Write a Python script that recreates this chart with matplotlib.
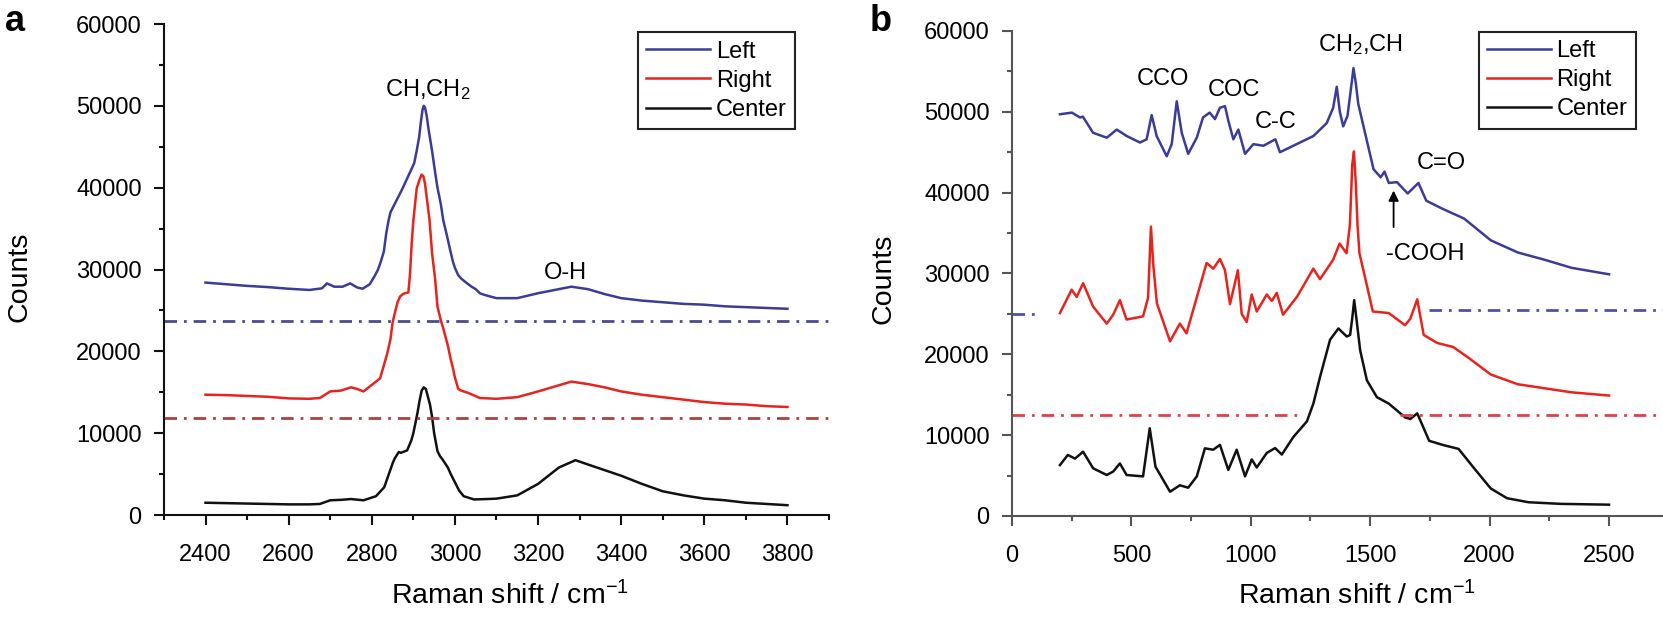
import numpy as np
import matplotlib
matplotlib.use('Agg')
import matplotlib.pyplot as plt
from matplotlib.ticker import MultipleLocator

plt.rcParams['font.family'] = ['Liberation Sans', 'DejaVu Sans']
plt.rcParams['mathtext.fontset'] = 'custom'
plt.rcParams['mathtext.rm'] = 'Liberation Sans'
plt.rcParams['mathtext.it'] = 'Liberation Sans'

#colours of the three spectra
blue = '#3b3b98'
red = '#e8231d'
black = '#111111'

labels = ['Left', 'Right', 'Center']

#panel a: high wavenumber region
a_left_x = [2400, 2450, 2500, 2550, 2600, 2650, 2680, 2692, 2710, 2730, 2748, 2765, 2778, 2795, 2808,
            2815, 2822, 2829, 2835, 2840, 2845, 2855, 2864, 2873, 2883, 2893, 2902, 2908, 2914, 2918,
            2922, 2925, 2928, 2932, 2937, 2945, 2952, 2958, 2966, 2972, 2981, 2988, 2995, 3000, 3008,
            3015, 3027, 3040, 3050, 3060, 3071, 3085, 3100, 3150, 3200, 3240, 3280, 3320, 3360, 3400,
            3450, 3500, 3550, 3600, 3650, 3700, 3750, 3800]
a_left_y = [28400, 28200, 28000, 27850, 27650, 27500, 27700, 28300, 27900, 27900, 28300, 27800, 27650, 28200, 29300,
            30000, 31000, 32200, 34500, 35900, 37000, 38000, 38900, 39800, 40900, 42000, 43000, 44500, 46200, 48000,
            49500, 50000, 49800, 48800, 47000, 44500, 42000, 40000, 38000, 36000, 34100, 32500, 31000, 30200, 29300,
            28900, 28400, 27900, 27600, 27100, 26900, 26700, 26500, 26500, 27100, 27500, 27900, 27600, 27000, 26500,
            26200, 26000, 25800, 25700, 25500, 25400, 25300, 25200]

a_right_x = [2400, 2450, 2500, 2550, 2600, 2650, 2675, 2700, 2725, 2750, 2765, 2780, 2800, 2820, 2837,
             2845, 2850, 2855, 2862, 2868, 2875, 2880, 2888, 2892, 2896, 2900, 2908, 2915, 2920, 2924,
             2928, 2939, 2945, 2952, 2958, 2966, 2972, 2983, 2990, 2995, 3000, 3008, 3015, 3033, 3060,
             3100, 3150, 3200, 3240, 3280, 3320, 3360, 3400, 3450, 3500, 3550, 3600, 3650, 3700, 3750,
             3800]
a_right_y = [14700, 14650, 14550, 14450, 14250, 14200, 14300, 15100, 15200, 15600, 15400, 15100, 15900, 16700, 19700,
             21500, 23500, 24600, 26000, 26700, 27000, 27100, 27200, 29500, 33200, 36000, 39900, 41000, 41600, 41400,
             40500, 36000, 32000, 29000, 25500, 23800, 22800, 20700, 19000, 18000, 16800, 15400, 15200, 14900, 14300,
             14200, 14400, 15100, 15700, 16300, 16000, 15600, 15100, 14700, 14400, 14100, 13800, 13600, 13500, 13300,
             13200]

a_center_x = [2400, 2450, 2500, 2550, 2600, 2650, 2675, 2700, 2725, 2750, 2780, 2810, 2830, 2850, 2855,
              2865, 2870, 2880, 2885, 2895, 2900, 2910, 2915, 2920, 2925, 2930, 2940, 2945, 2950, 2958,
              2964, 2970, 2983, 2990, 3002, 3010, 3021, 3046, 3075, 3100, 3150, 3200, 3250, 3290, 3330,
              3400, 3450, 3500, 3550, 3600, 3650, 3700, 3750, 3800]
a_center_y = [1500, 1450, 1400, 1350, 1300, 1300, 1350, 1800, 1850, 1950, 1800, 2300, 3400, 6300, 6900,
              7700, 7600, 7800, 7900, 9100, 10000, 12500, 14000, 15200, 15600, 15400, 13500, 12000, 10000, 7800,
              7200, 6800, 5800, 5000, 3800, 3000, 2300, 1900, 1950, 2000, 2400, 3800, 5800, 6700, 6000,
              4800, 3800, 2900, 2400, 2000, 1800, 1500, 1350, 1200]

#horizontal dash-dot reference levels in panel a
a_blue_level = 23700
a_red_level = 11800

#panel b: fingerprint region
b_left_x = [201, 251, 285, 297, 340, 397, 439, 481, 536, 564, 585, 606, 648, 669, 690,
            711, 738, 774, 800, 828, 850, 871, 892, 906, 927, 948, 976, 1011, 1053, 1103,
            1122, 1150, 1206, 1262, 1318, 1345, 1360, 1373, 1387, 1405, 1420, 1430, 1440, 1450, 1472,
            1514, 1544, 1560, 1578, 1612, 1657, 1702, 1735, 1803, 1893, 2005, 2118, 2230, 2343, 2500]
b_left_y = [49700, 49900, 49300, 49400, 47400, 46800, 47800, 47000, 46200, 46600, 49600, 47000, 44500, 46000, 51300,
            47400, 44800, 46800, 49300, 49900, 49100, 50500, 50700, 48900, 46600, 47800, 44800, 46000, 45800, 46600,
            45000, 45400, 46200, 47000, 48600, 50500, 53100, 50000, 48200, 49500, 53000, 55400, 53500, 51000, 48200,
            42900, 41900, 42600, 41200, 41300, 39900, 41200, 39000, 38000, 36800, 34100, 32600, 31700, 30700, 29900]

b_right_x = [201, 250, 271, 298, 340, 397, 424, 452, 480, 549, 570, 582, 592, 607, 662, 703, 731,
             787, 815, 843, 871, 892, 913, 946, 962, 983, 1004, 1025, 1067, 1088, 1109, 1135,
             1193, 1262, 1290, 1345, 1372, 1401, 1415, 1425, 1432, 1440, 1447, 1455, 1477, 1511, 1578,
             1646, 1668, 1697, 1724, 1781, 1848, 1915, 2005, 2118, 2230, 2343, 2500]
b_right_y = [25100, 28000, 27100, 28800, 25900, 23800, 24900, 26700, 24300, 24700, 27000, 35800, 31000, 26300, 21600, 23800, 22600,
             28400, 31300, 30600, 31800, 30400, 26200, 30400, 25000, 24000, 27400, 25300, 27400, 26600, 27600, 24900,
             27100, 30600, 29300, 31700, 33700, 32500, 36000, 43500, 45100, 41000, 36000, 32500, 29700, 25300, 25100,
             23600, 24400, 26800, 22400, 21400, 20900, 19500, 17500, 16300, 15800, 15300, 14900]

b_center_x = [201, 234, 264, 298, 340, 397, 424, 452, 480, 549, 577, 601, 662, 703, 738,
              774, 808, 843, 871, 906, 941, 976, 1004, 1025, 1067, 1102, 1130, 1179, 1235, 1262,
              1290, 1332, 1367, 1402, 1416, 1425, 1433, 1440, 1458, 1486, 1528, 1578, 1646, 1668, 1697,
              1747, 1803, 1870, 1938, 2005, 2073, 2163, 2298, 2500]
b_center_y = [6300, 7550, 7100, 7950, 5900, 5070, 5500, 6500, 5070, 4900, 10850, 6100, 3000, 3800, 3500,
              4900, 8370, 8200, 8800, 5700, 8200, 4900, 7000, 6000, 7800, 8400, 7600, 9800, 11700, 13900,
              17200, 21800, 23200, 22200, 22400, 24500, 26700, 25000, 20500, 16800, 14700, 13900, 12200, 12000, 12700,
              9300, 8800, 8300, 5800, 3400, 2200, 1700, 1500, 1400]

#dash-dot levels in panel b, drawn only where they show in the picture
b_blue_segments = [([0, 115], 25000), ([1745, 2750], 25500)]
b_red_segments = [([0, 1200], 12500), ([1625, 2750], 12500)]

dashdot = (0, (4.5, 2.5, 1, 2.5))

fig = plt.figure(figsize=(16.63, 6.17), dpi=100)
axa = fig.add_axes([0.0986, 0.1653, 0.3999, 0.7958])
axb = fig.add_axes([0.6085, 0.1637, 0.3915, 0.7861])


def style_axes(ax, spine_col):
    for s in ['top', 'right']:
        ax.spines[s].set_visible(False)
    for s in ['left', 'bottom']:
        ax.spines[s].set_linewidth(1.5)
        ax.spines[s].set_color(spine_col)
    ax.tick_params(which='major', direction='out', length=7, width=1.5, color=spine_col, labelsize=17)
    ax.tick_params(which='minor', direction='out', length=3.5, width=1.5, color=spine_col)
    ax.tick_params(axis='x', which='major', pad=14)
    ax.tick_params(axis='y', which='major', pad=9)
    ax.yaxis.set_major_locator(MultipleLocator(10000))
    ax.yaxis.set_minor_locator(MultipleLocator(5000))
    ax.set_ylim(0, 60000)
    ax.set_xlabel('Raman shift / cm$^{-1}$', fontsize=20.5)
    ax.set_ylabel('Counts', fontsize=20.5)


#panel a
style_axes(axa, '#111111')
axa.plot(a_left_x, a_left_y, color=blue, lw=1.8, label=labels[0])
axa.plot(a_right_x, a_right_y, color=red, lw=1.8, label=labels[1])
axa.plot(a_center_x, a_center_y, color=black, lw=1.8, label=labels[2])
axa.axhline(a_blue_level, color='#4b4b90', lw=2, linestyle=dashdot)
axa.axhline(a_red_level, color='#b0403c', lw=2, linestyle=dashdot)
axa.set_xlim(2300, 3900)
axa.xaxis.set_major_locator(MultipleLocator(200))
axa.xaxis.set_minor_locator(MultipleLocator(100))
axa.set_xticks([2400, 2600, 2800, 3000, 3200, 3400, 3600, 3800])
axa.text(2935, 51200, 'CH,CH$_2$', fontsize=17, ha='center', va='baseline')
axa.text(3266, 28900, 'O-H', fontsize=17, ha='center', va='baseline')
axa.xaxis.set_label_coords(0.52, -0.135)
axa.yaxis.set_label_coords(-0.198, 0.485)

#panel b
style_axes(axb, '#555555')
axb.plot(b_left_x, b_left_y, color=blue, lw=1.8, label=labels[0])
axb.plot(b_right_x, b_right_y, color=red, lw=1.8, label=labels[1])
axb.plot(b_center_x, b_center_y, color=black, lw=1.8, label=labels[2])
for xs, lev in b_blue_segments:
    axb.plot(xs, [lev, lev], color='#5050a8', lw=2, linestyle=dashdot)
for xs, lev in b_red_segments:
    axb.plot(xs, [lev, lev], color='#e0404a', lw=2, linestyle=dashdot)
axb.set_xlim(0, 2726)
axb.xaxis.set_major_locator(MultipleLocator(500))
axb.xaxis.set_minor_locator(MultipleLocator(250))
axb.set_xticks([0, 500, 1000, 1500, 2000, 2500])
axb.text(634, 53300, 'CCO', fontsize=17, ha='center', va='baseline')
axb.text(931, 51900, 'COC', fontsize=17, ha='center', va='baseline')
axb.text(1106, 47980, 'C-C', fontsize=17, ha='center', va='baseline')
axb.text(1459, 57500, 'CH$_2$,CH', fontsize=17, ha='center', va='baseline')
axb.text(1799, 42960, 'C=O', fontsize=17, ha='center', va='baseline')
axb.text(1731, 31660, '-COOH', fontsize=17, ha='center', va='baseline')
axb.annotate('', xy=(1598, 40600), xytext=(1598, 35400),
             arrowprops=dict(arrowstyle='-|>', color='black', lw=1.3, mutation_scale=15))
axb.xaxis.set_label_coords(0.53, -0.135)
axb.yaxis.set_label_coords(-0.178, 0.49)

for ax, anchor in [(axa, (0.949, 0.983)), (axb, (0.958, 0.998))]:
    leg = ax.legend(loc='upper right', bbox_to_anchor=anchor, borderaxespad=0, fontsize=17,
                    fancybox=False, handlelength=2.7, handletextpad=0.25, borderpad=0.35,
                    labelspacing=0.3, framealpha=1)
    leg.get_frame().set_edgecolor('#222222')
    leg.get_frame().set_linewidth(1.5)

fig.text(0.003, 0.965, 'a', fontsize=26, fontweight='bold', va='center')
fig.text(0.523, 0.965, 'b', fontsize=26, fontweight='bold', va='center')

fig.savefig('out.png', dpi=100)
